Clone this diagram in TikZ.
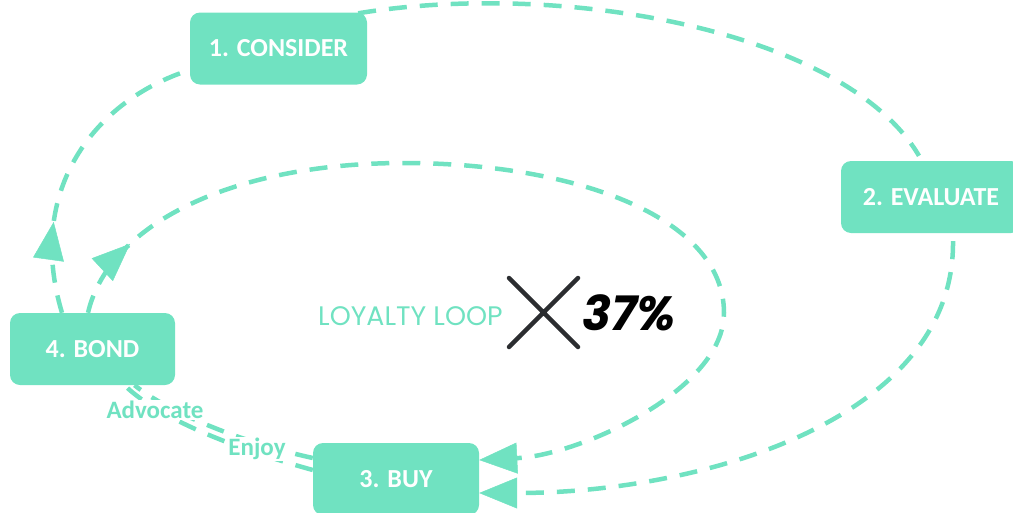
\documentclass[tikz,border=0pt]{standalone}
\usepackage{fontspec}
\setmainfont{Carlito}
\newfontfamily\geofont{Poppins}
\usetikzlibrary{arrows.meta,decorations.markings}
\definecolor{mint}{RGB}{112,226,193}
\definecolor{xgray}{RGB}{43,45,48}
\begin{document}
\begin{tikzpicture}[x=1pt,y=-1pt,
  stage/.style={fill=mint, rounded corners=10pt, text=white,
    font=\bfseries\fontsize{26}{30}\selectfont, minimum height=72pt, inner sep=0pt},
  flow/.style={draw=mint, line width=4.5pt, dash pattern=on 18pt off 13pt},
  tip/.tip={Triangle[length=38pt,width=31pt,line width=0.5pt]},
  midtip/.style={decoration={markings, mark=at position #1 with {\arrow{tip}}}, postaction=decorate},
  lbl/.style={text=mint, font=\bfseries\fontsize{25}{28}\selectfont, fill=white, inner sep=1pt},
  geo/.style={font=\geofont\fontsize{26.8}{30}\selectfont}
]
\useasboundingbox (0,0) rectangle (1013,512);

% stages
\node[stage, minimum width=177pt] (consider) at (278.5,48.5) {1. CONSIDER};
\node[stage, minimum width=180pt] (evaluate) at (931,197) {2. EVALUATE};
\node[stage, minimum width=166pt] (buy) at (396,479) {3. BUY};
\node[stage, minimum width=165pt] (bond) at (92.5,349) {4. BOND};

% outer cycle
\draw[flow] ([xshift=-9pt,yshift=-1pt]consider.north east)
  .. controls (560,-20) and (845,30) .. ([xshift=-12pt,yshift=5pt]evaluate.north);
\draw[flow, -{tip}] ([xshift=22pt,yshift=-8pt]evaluate.south)
  .. controls (955,420) and (700,493) .. ([yshift=-14pt]buy.east);
\draw[flow] ([yshift=9pt]buy.west)
  .. controls (240,450) and (160,420) .. ([xshift=32pt]bond.south);
\draw[flow] ([yshift=21pt]buy.west)
  .. controls (240,442) and (168,412) .. ([xshift=42pt]bond.south);
\draw[flow, midtip=92pt] ([xshift=-30.5pt]bond.north)
  .. controls (25,190) and (95,100) .. ([yshift=-21.5pt]consider.west);

% loyalty loop
\draw[flow, midtip=82pt, -{tip}] ([xshift=-4.5pt]bond.north)
  .. controls (109,223) and (234,163) .. (404,163)
  .. controls (570,163) and (724,215) .. (724,313)
  .. controls (724,390) and (580,455) .. ([yshift=19pt]buy.east);

% labels
\node[lbl] (advocate) at (155,410) {Advocate};
\node[lbl] (enjoy) at (257,449) {Enjoy};

\node[geo, text=mint, anchor=base west, inner sep=0pt] (loop) at (318,325) {LOYALTY LOOP};
\coordinate (xa) at (509,278);
\coordinate (xb) at (578,347);
\coordinate (xc) at (578,278);
\coordinate (xd) at (509,347);
\draw[xgray, line width=4.5pt, line cap=round] (xa) -- (xb) (xc) -- (xd);
\node[font=\geofont\bfseries\itshape\fontsize{48}{50}\selectfont, anchor=base west, inner sep=0pt] (pct) at (582,330) {37\%};
\end{tikzpicture}
\end{document}
